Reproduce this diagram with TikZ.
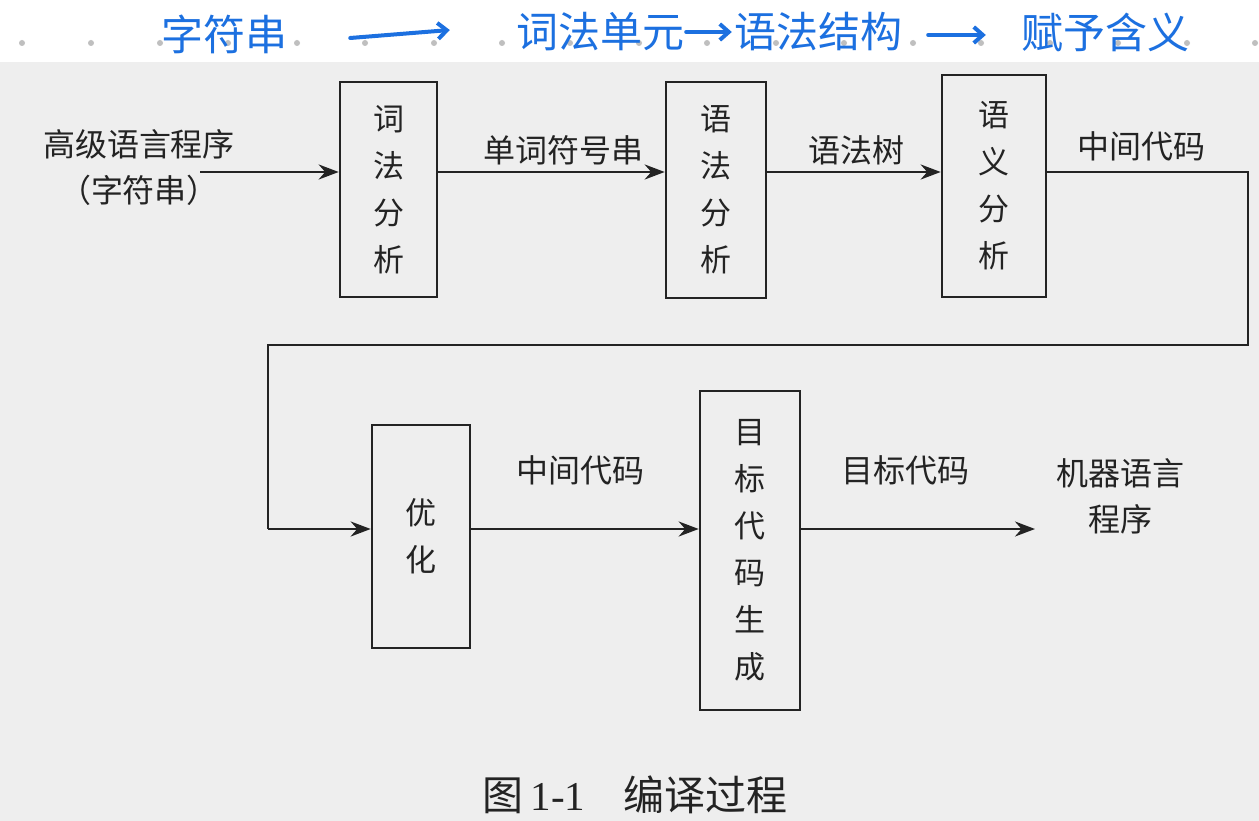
\documentclass[tikz,border=0pt]{standalone}
\usepackage{fontspec}
\newfontfamily\cjk{Noto Sans CJK SC}
\newfontfamily\serif{Liberation Serif}
\usetikzlibrary{arrows.meta}
\definecolor{handblue}{RGB}{28,112,224}
\definecolor{paper}{RGB}{238,238,238}
\definecolor{ink}{RGB}{35,35,35}
\begin{document}
\begin{tikzpicture}[x=1pt,y=-1pt,
  stagebox/.style={draw=ink, line width=2.6pt, inner sep=0pt, align=center,
    font=\cjk\fontsize{31}{47}\selectfont, text=ink},
  lbl/.style={font=\cjk\fontsize{32}{46}\selectfont, text=ink, align=center, inner sep=0pt},
  flow/.style={line width=2.6pt, draw=ink, -{Stealth[length=20pt,width=15pt]}},
  wire/.style={line width=2.6pt, draw=ink},
  hand/.style={font=\cjk\fontsize{42}{44}\selectfont, text=handblue, inner sep=0pt},
  handarrow/.style={line width=4pt, draw=handblue, line cap=round, -{Straight Barb[length=9pt,width=16pt]}},
  dot/.style={fill=black!25}
]
\useasboundingbox (0,0) rectangle (1259,821);
\fill[paper] (0,0) rectangle (1259,821);
\fill[white] (0,0) rectangle (1259,62);
\foreach \x in {22,91,160,228,297,365,434,502,570,639,707,776,844,913,981,1050,1118,1187,1255}
  \fill[dot] (\x,43) circle (3pt);

% handwritten notes
\node[hand] (h1) at (224,34) {字符串};
\node[hand] (h2) at (600,32) {词法单元};
\node[hand] (h3) at (818,32) {语法结构};
\node[hand] (h4) at (1105,32) {赋予含义};
\draw[handarrow] ([xshift=63pt,yshift=-4pt]h1.east) -- ([xshift=-66pt,yshift=2pt]h2.west);
\draw[handarrow] ([xshift=2pt]h2.east) -- ([xshift=-2pt]h3.west);
\draw[handarrow] ([xshift=26pt,yshift=-3pt]h3.east) -- ([xshift=-35pt,yshift=-3pt]h4.west);

% stage boxes
\node[stagebox, minimum width=97pt, minimum height=215pt] (b1) at (388.5,189.5) {词\\法\\分\\析};
\node[stagebox, minimum width=100pt, minimum height=216pt] (b2) at (716,190) {语\\法\\分\\析};
\node[stagebox, minimum width=104pt, minimum height=222pt] (b3) at (994,186) {语\\义\\分\\析};
\node[stagebox, minimum width=98pt, minimum height=223pt] (b4) at (421,536.5) {优\\化};
\node[stagebox, minimum width=100pt, minimum height=319pt] (b5) at (750,550.5) {目\\标\\代\\码\\生\\成};

% texts
\node[lbl] (src) at (139,168) {高级语言程序\\（字符串）};
\node[lbl] (t1) at (563,150) {单词符号串};
\node[lbl] (t2) at (856,150) {语法树};
\node[lbl] (t3) at (1141,146) {中间代码};
\node[lbl] (t4) at (580,470) {中间代码};
\node[lbl] (t5) at (905,470) {目标代码};
\node[lbl] (dst) at (1120,496) {机器语言\\程序};
\node[inner sep=0pt, font=\cjk\fontsize{41}{44}\selectfont, text=ink] (cap) at (635,795)
  {图\,{\serif 1-1}\hspace{38pt}编译过程};

% routing coordinates
\coordinate (row1) at (0,172);
\coordinate (row2) at (0,529);
\coordinate (start) at (200,172);
\coordinate (c1) at (1248,172);
\coordinate (c2) at (1248,345);
\coordinate (c3) at (268,345);
\coordinate (c4) at (268,529);
\coordinate (end) at (1035,529);

% connectors
\draw[flow] (start) -- (b1.west |- row1);
\draw[flow] (b1.east |- row1) -- (b2.west |- row1);
\draw[flow] (b2.east |- row1) -- (b3.west |- row1);
\draw[wire] (b3.east |- row1) -- (c1) -- (c2) -- (c3) -- (c4);
\draw[flow] (c4) -- (b4.west |- row2);
\draw[flow] (b4.east |- row2) -- (b5.west |- row2);
\draw[flow] (b5.east |- row2) -- (end);
\end{tikzpicture}
\end{document}
